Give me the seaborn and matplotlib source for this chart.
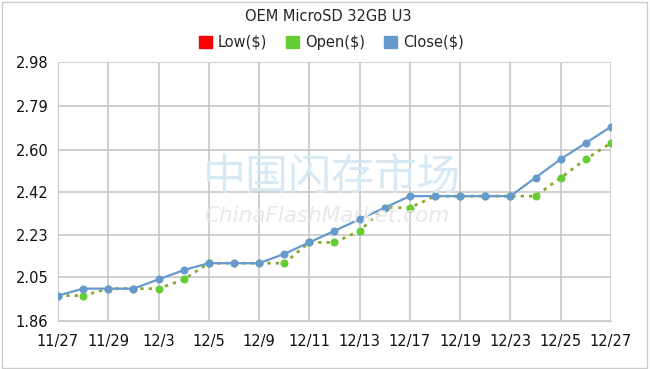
import numpy as np
import pandas as pd
import matplotlib
matplotlib.use("Agg")
import matplotlib.pyplot as plt
import seaborn as sns
from matplotlib.patches import Patch, Rectangle

# data
dates = ["11/27", "11/28", "11/29", "12/2", "12/3", "12/4", "12/5", "12/6", "12/9", "12/10",
         "12/11", "12/12", "12/13", "12/16", "12/17", "12/18", "12/19", "12/20", "12/23",
         "12/24", "12/25", "12/26", "12/27"]
open_px = [1.97, 1.97, 2.00, 2.00, 2.00, 2.04, 2.11, 2.11, 2.11, 2.11, 2.20, 2.20, 2.25,
           2.35, 2.35, 2.40, 2.40, 2.40, 2.40, 2.40, 2.48, 2.56, 2.63]
close_px = [1.97, 2.00, 2.00, 2.00, 2.04, 2.08, 2.11, 2.11, 2.11, 2.15, 2.20, 2.25, 2.30,
            2.35, 2.40, 2.40, 2.40, 2.40, 2.40, 2.48, 2.56, 2.63, 2.70]
y_ticks = [1.86, 2.05, 2.23, 2.42, 2.60, 2.79, 2.98]

df = pd.DataFrame({"idx": np.arange(len(dates)), "date": dates,
                   "open": open_px, "close": close_px})

sns.set_style("white")
plt.rcParams["font.family"] = ["DejaVu Sans", "Noto Sans CJK SC"]

fig = plt.figure(figsize=(6.5, 3.69), dpi=100)
ax = fig.add_axes([0.0892, 0.130, 0.8508, 0.702])

# watermark
fig.text(0.51, 0.518, "中国闪存市场", family=["Noto Sans CJK SC"], fontsize=31,
         color="#d6e9f5", ha="center", va="center", zorder=0)
fig.text(0.503, 0.415, "ChinaFlashMarket.com", fontsize=15.5, style="italic",
         color="#e8e8e8", ha="center", va="center", zorder=0)

sns.lineplot(data=df, x="idx", y="open", ax=ax, color="#8aaa2e", linestyle=(0, (1.2, 1.8)),
             linewidth=2, marker="o", markersize=5, markerfacecolor="#66cc33",
             markeredgecolor="#66cc33", zorder=3)
sns.lineplot(data=df, x="idx", y="close", ax=ax, color="#6699cc", linewidth=1.6,
             marker="o", markersize=5, markerfacecolor="#6699cc",
             markeredgecolor="#6699cc", zorder=4)

ax.set_xlim(0, len(dates) - 1)
ax.set_ylim(1.86, 2.98)
ax.set_yticks(y_ticks)
ax.set_yticklabels([f"{v:.2f}" for v in y_ticks])
ax.set_xticks(df["idx"][::2])
ax.set_xticklabels(df["date"][::2])
ax.set_xlabel("")
ax.set_ylabel("")
ax.grid(True, color="#c8c8c8", linewidth=1.2)
ax.set_axisbelow(True)
for s in ["top", "right"]:
    ax.spines[s].set_visible(False)
ax.spines["left"].set_color("#c8c8c8")
ax.spines["bottom"].set_color("#c8c8c8")
ax.tick_params(axis="both", length=0, labelsize=10.5, colors="#111111", pad=7)
ax.tick_params(axis="x", pad=9)
ax.patch.set_alpha(0)

fig.text(0.505, 0.955, "OEM MicroSD 32GB U3", ha="center", va="center", fontsize=10.5)
handles = [Patch(color="#ff0000", label="Low($)"), Patch(color="#66cc33", label="Open($)"),
           Patch(color="#6699cc", label="Close($)")]
fig.legend(handles=handles, loc="center", bbox_to_anchor=(0.51, 0.885), ncol=3,
           frameon=False, fontsize=10.5, handlelength=0.9, handleheight=0.9,
           handletextpad=0.4, columnspacing=1.3)

fig.patches.append(Rectangle((0.003, 0.004), 0.992, 0.99, transform=fig.transFigure,
                             fill=False, edgecolor="#cccccc", linewidth=1))

fig.savefig("out.png", dpi=100)
